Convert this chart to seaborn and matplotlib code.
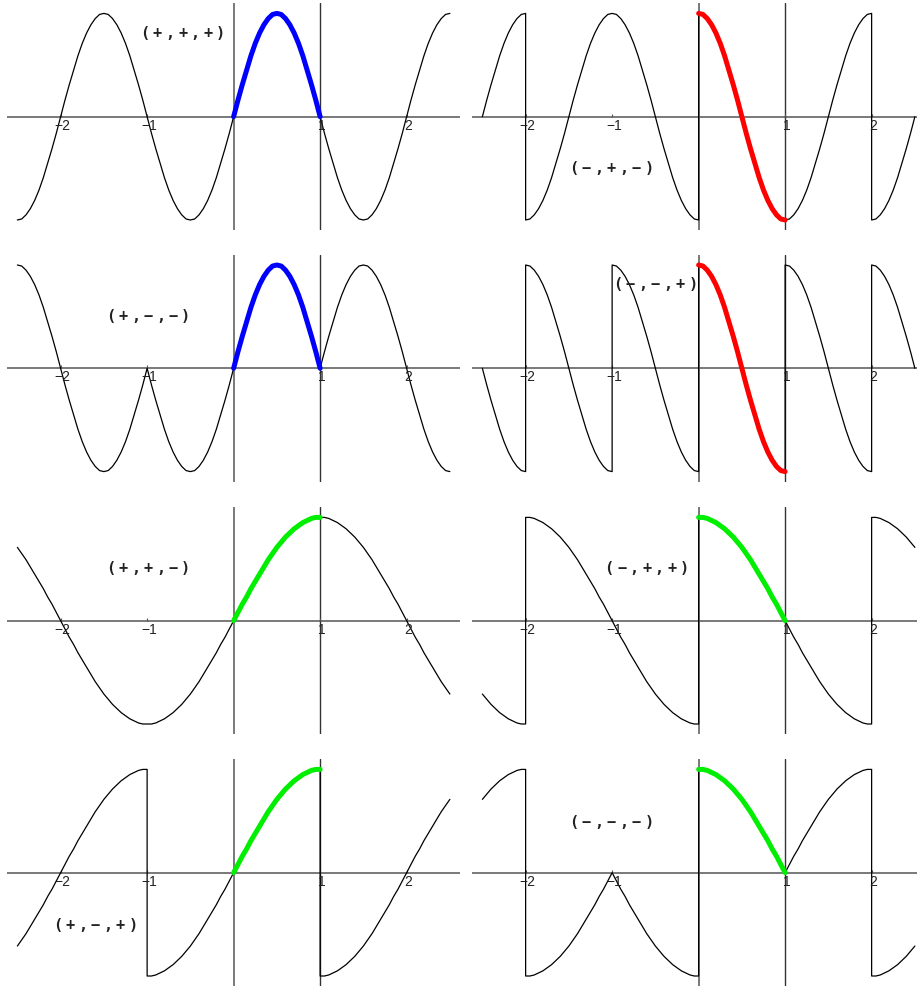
import numpy as np
import pandas as pd
import matplotlib
matplotlib.use("Agg")
import matplotlib.pyplot as plt
import seaborn as sns

# ─────────────────────────────────────────────────────────────────────────────
# DATA  (base shapes on one unit interval, read at t = 0, 0.05, ..., 1)
# ─────────────────────────────────────────────────────────────────────────────
t_grid = np.linspace(0, 1, 21)

half_wave = [0.00, 0.16, 0.31, 0.45, 0.59, 0.71, 0.81, 0.89, 0.95, 0.99, 1.00,
             0.99, 0.95, 0.89, 0.81, 0.71, 0.59, 0.45, 0.31, 0.16, 0.00]
falling_wave = [1.00, 0.99, 0.95, 0.89, 0.81, 0.71, 0.59, 0.45, 0.31, 0.16, 0.00,
                -0.16, -0.31, -0.45, -0.59, -0.71, -0.81, -0.89, -0.95, -0.99, -1.00]
quarter_wave = [0.00, 0.08, 0.16, 0.23, 0.31, 0.38, 0.45, 0.52, 0.59, 0.65, 0.71,
                0.76, 0.81, 0.85, 0.89, 0.92, 0.95, 0.97, 0.99, 1.00, 1.00]

shape_table = {"half": half_wave, "falling": falling_wave, "quarter": quarter_wave}

# unit intervals [k, k+1] for k = -3 .. 2
interval_starts = [-3, -2, -1, 0, 1, 2]

panel_labels = ["(+,+,+)", "(−,+,−)", "(+,−,−)", "(−,−,+)",
                "(+,+,−)", "(−,+,+)", "(+,−,+)", "(−,−,−)"]
panel_shapes = ["half", "falling", "half", "falling",
                "quarter", "quarter", "quarter", "quarter"]
panel_signs = [
    [-1, 1, -1, 1, -1, 1],
    [-1, -1, 1, 1, -1, -1],
    [1, -1, -1, 1, 1, -1],
    [1, 1, 1, 1, 1, 1],
    [1, -1, -1, 1, 1, -1],
    [-1, 1, -1, 1, -1, 1],
    [-1, 1, -1, 1, -1, 1],
    [1, -1, -1, 1, 1, -1],
]
panel_reversed = [
    [0, 0, 0, 0, 0, 0],
    [0, 0, 0, 0, 0, 0],
    [0, 0, 0, 0, 0, 0],
    [0, 0, 0, 0, 0, 0],
    [1, 0, 1, 0, 1, 0],
    [0, 1, 0, 1, 0, 1],
    [1, 0, 1, 0, 1, 0],
    [0, 1, 0, 1, 0, 1],
]
highlight_colors = ["#0000ff", "#ff0000", "#0000ff", "#ff0000",
                    "#00ee00", "#00ee00", "#00ee00", "#00ee00"]
label_pos = [(-0.59, 0.81), (-1.01, -0.50), (-0.99, 0.50), (-0.50, 0.81),
             (-0.99, 0.51), (-0.60, 0.51), (-1.60, -0.51), (-1.01, 0.49)]
tick_values = [-2, -1, 1, 2]
tick_labels = ["−2", "−1", "1", "2"]


def build_curve(shape, signs, rev):
    base = np.array(shape_table[shape])
    rows = []
    for k, s, r in zip(interval_starts, signs, rev):
        vals = base[::-1] if r else base
        for t, v in zip(t_grid, vals):
            rows.append((k + t, s * v, k))
    df = pd.DataFrame(rows, columns=["x", "y", "piece"])
    return df[(df["x"] >= -2.5 - 1e-9) & (df["x"] <= 2.5 + 1e-9)].reset_index(drop=True)


# ─────────────────────────────────────────────────────────────────────────────
# FIGURE
# ─────────────────────────────────────────────────────────────────────────────
sns.set_style("white")
W, H = 917, 990
fig = plt.figure(figsize=(W / 100, H / 100), dpi=100)

px_per_x = 86.5
px_per_y = 103.3
row_zero = [116.7, 368.3, 620.7, 872.7]
col_left = [7, 472]
col_xlim = [(-2.62, 2.62), (-2.62, 2.52)]

for i in range(8):
    row, col = divmod(i, 2)
    xlim = col_xlim[col]
    w_px = (xlim[1] - xlim[0]) * px_per_x
    h_px = 2.2 * px_per_y
    top_px = row_zero[row] - 1.1 * px_per_y
    ax = fig.add_axes([col_left[col] / W, 1 - (top_px + h_px) / H, w_px / W, h_px / H])
    ax.set_xlim(*xlim)
    ax.set_ylim(-1.1, 1.1)
    ax.axis("off")

    # axes lines
    ax.axhline(0, color="#555555", lw=1.1, zorder=1)
    ax.axvline(0, color="#555555", lw=1.1, zorder=1)
    ax.axvline(1, color="#333333", lw=1.0, zorder=1)
    ax.vlines(tick_values, 0, 0.03, color="#555555", lw=0.8)
    for tv, tl in zip(tick_values, tick_labels):
        ax.text(tv + 0.02, -0.02, tl, ha="center", va="top", fontsize=10,
                family="Liberation Sans", color="#222222")

    curve = build_curve(panel_shapes[i], panel_signs[i], panel_reversed[i])
    sns.lineplot(data=curve, x="x", y="y", sort=False, estimator=None,
                 color="black", lw=0.9, ax=ax, zorder=2)
    seg = curve[curve["piece"] == 0]
    sns.lineplot(data=seg, x="x", y="y", sort=False, estimator=None,
                 color=highlight_colors[i], lw=3.6, ax=ax, zorder=3)
    ax.set_xlabel("")
    ax.set_ylabel("")

    # panel label, characters spread out
    cx, cy = label_pos[i]
    lab = panel_labels[i]
    for j, ch in enumerate(lab):
        ax.text(cx + (j - (len(lab) - 1) / 2) * 0.145, cy, ch, ha="center", va="center",
                fontsize=11, family="DejaVu Sans Mono", fontweight="bold", color="#222222")

plt.savefig("out.png", dpi=100)
